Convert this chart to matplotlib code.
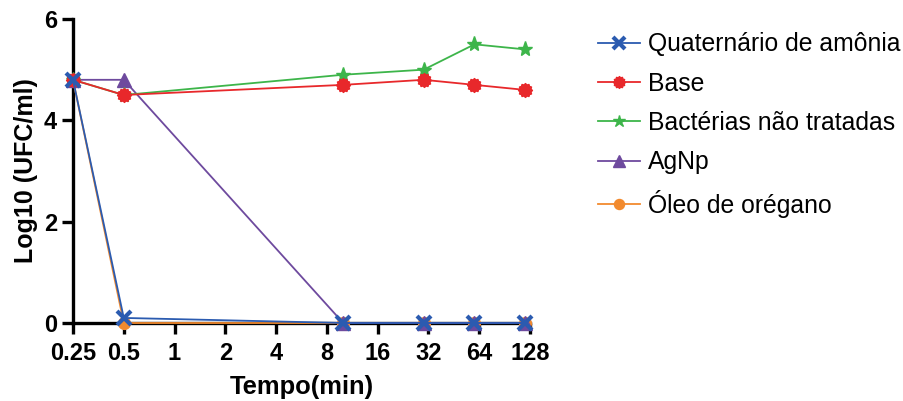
import numpy as np
import matplotlib.pyplot as plt
from matplotlib.path import Path

plt.rcParams['font.family'] = ['Liberation Sans', 'DejaVu Sans']

# Data
tempo = [0.25, 0.5, 10, 30, 60, 120]
quaternario = [4.8, 0.1, 0, 0, 0, 0]
base = [4.8, 4.5, 4.7, 4.8, 4.7, 4.6]
bacterias = [4.8, 4.5, 4.9, 5.0, 5.5, 5.4]
agnp = [4.8, 4.8, 0, 0, 0, 0]
oregano = [4.8, 0, 0, 0, 0, 0]
x_ticks = [0.25, 0.5, 1, 2, 4, 8, 16, 32, 64, 128]
x_ticklabels = ['0.25', '0.5', '1', '2', '4', '8', '16', '32', '64', '128']

# serrated circle marker (like the GraphPad one for "Base")
n = 24
ang = np.linspace(0, 2 * np.pi, n, endpoint=False)
rad = np.where(np.arange(n) % 2 == 0, 1.0, 0.82)
verts = np.column_stack([rad * np.cos(ang), rad * np.sin(ang)])
verts = np.vstack([verts, verts[:1]])
serrated = Path(verts, [Path.MOVETO] + [Path.LINETO] * (n - 1) + [Path.CLOSEPOLY])

fig = plt.figure(figsize=(9.04, 4.01), dpi=100)
ax = fig.add_axes([73 / 904, 1 - 323 / 401, (530 - 73) / 904, (323 - 19) / 401])

ax.plot(tempo, oregano, color='#F28A2E', marker='o', ms=8.5, lw=1.3, clip_on=False, label='Óleo de orégano', zorder=3)
ax.plot(tempo, agnp, color='#6E4A9E', marker='^', ms=9.5, lw=1.3, clip_on=False, label='AgNp', zorder=4)
ax.plot(tempo, bacterias, color='#3DB54A', marker='*', ms=11, lw=1.3, clip_on=False, label='Bactérias não tratadas', zorder=5)
ax.plot(tempo, base, color='#E8282B', marker=serrated, ms=10, lw=1.3, clip_on=False, label='Base', zorder=6)
ax.plot(tempo, quaternario, color='#2B5BB0', marker='x', ms=10, mew=3, lw=1.3, clip_on=False, label='Quaternário de amônia', zorder=7)

ax.set_xscale('log', base=2)
ax.set_xlim(0.25, 128)
ax.set_ylim(0, 6)
ax.set_xticks(x_ticks)
ax.set_xticklabels(x_ticklabels)
ax.minorticks_off()
ax.set_yticks([0, 2, 4, 6])

for s in ['top', 'right']:
    ax.spines[s].set_visible(False)
for s in ['left', 'bottom']:
    ax.spines[s].set_linewidth(2.4)
ax.tick_params(width=2.4, length=8, labelsize=17)
ax.tick_params(axis='x', pad=6)
for lab in ax.get_xticklabels() + ax.get_yticklabels():
    lab.set_fontweight('bold')

ax.set_xlabel('Tempo(min)', fontsize=18.4, fontweight='bold', labelpad=7)
ax.set_ylabel('Log10 (UFC/ml)', fontsize=18, fontweight='bold', labelpad=4)

handles, labels = ax.get_legend_handles_labels()
order = [4, 3, 2, 1, 0]
leg = fig.legend([handles[i] for i in order], [labels[i] for i in order],
                 loc='upper left', bbox_to_anchor=(576 / 904, 1 - 10 / 401),
                 frameon=False, fontsize=17.8, handlelength=1.7, handletextpad=0.32,
                 labelspacing=0.62, markerscale=0.85)

fig.savefig('out.png', dpi=100)
